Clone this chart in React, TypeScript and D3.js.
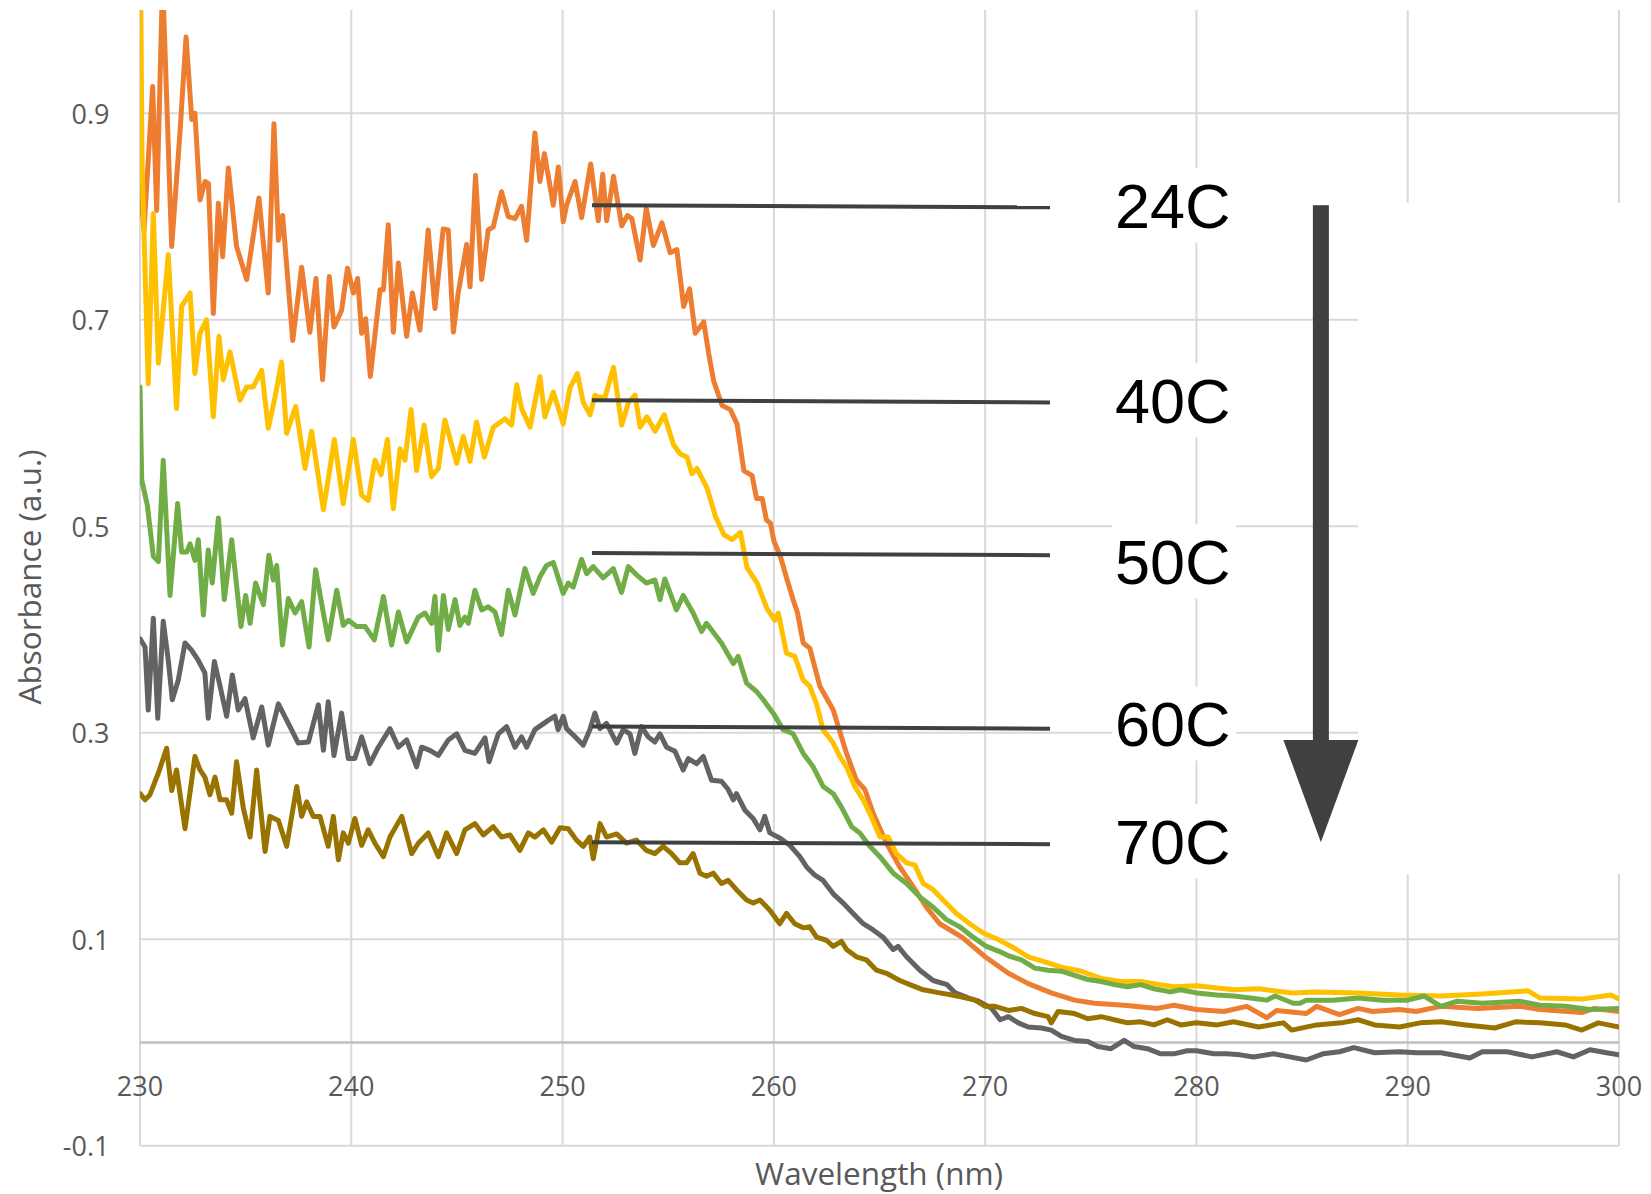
import React from 'react';
import * as d3 from 'd3';

const W = 1651;
const H = 1194;

const xTicks = [230, 240, 250, 260, 270, 280, 290, 300];
const yTicks = [-0.1, 0.1, 0.3, 0.5, 0.7, 0.9];
const yTickLabels = ['-0.1', '0.1', '0.3', '0.5', '0.7', '0.9'];

const seriesNames = ['24C', '40C', '50C', '60C', '70C'];
const seriesColors = ['#ED7D31', '#FFC000', '#70AD47', '#636363', '#997300'];

const abs24C: [number, number][] = [
  [230.0, 0.835], [230.19, 0.787], [230.6, 0.926], [230.79, 0.806], [231.07, 1.03], [231.5, 0.771], [231.89, 0.881], [232.18, 0.974], [232.45, 0.894], [232.6, 0.90], [232.84, 0.816], [233.08, 0.834], [233.24, 0.832], [233.47, 0.706], [233.71, 0.813], [233.91, 0.761], [234.18, 0.847], [234.57, 0.771], [235.05, 0.739], [235.63, 0.818], [236.07, 0.726], [236.34, 0.890], [236.55, 0.777], [236.75, 0.801], [237.23, 0.680], [237.65, 0.751], [238.04, 0.688], [238.33, 0.740], [238.64, 0.642], [238.96, 0.742], [239.18, 0.693], [239.54, 0.709], [239.82, 0.750], [240.10, 0.726], [240.30, 0.740], [240.49, 0.687], [240.68, 0.701], [240.90, 0.645], [241.36, 0.729], [241.52, 0.729], [241.75, 0.792], [241.99, 0.688], [242.23, 0.755], [242.62, 0.684], [242.89, 0.726], [243.25, 0.690], [243.64, 0.787], [243.96, 0.711], [244.35, 0.788], [244.59, 0.787], [244.83, 0.688], [245.06, 0.726], [245.46, 0.773], [245.62, 0.732], [245.88, 0.840], [246.17, 0.739], [246.48, 0.787], [246.72, 0.790], [247.11, 0.824], [247.43, 0.800], [247.75, 0.798], [248.06, 0.810], [248.30, 0.777], [248.69, 0.881], [248.93, 0.834], [249.14, 0.861], [249.56, 0.811], [249.80, 0.848], [250.03, 0.795], [250.19, 0.811], [250.59, 0.834], [250.90, 0.799], [251.33, 0.851], [251.69, 0.796], [251.90, 0.841], [252.09, 0.796], [252.41, 0.839], [252.80, 0.791], [253.07, 0.801], [253.28, 0.798], [253.67, 0.758], [253.96, 0.808], [254.30, 0.772], [254.70, 0.794], [255.09, 0.765], [255.41, 0.768], [255.73, 0.713], [256.01, 0.730], [256.28, 0.687], [256.68, 0.698], [256.91, 0.668], [257.15, 0.641], [257.55, 0.617], [257.94, 0.613], [258.26, 0.599], [258.58, 0.554], [258.97, 0.549], [259.18, 0.527], [259.45, 0.527], [259.65, 0.506], [259.84, 0.503], [260.0, 0.486], [260.32, 0.470], [260.63, 0.448], [260.91, 0.429], [261.11, 0.417], [261.39, 0.387], [261.70, 0.382], [262.18, 0.345], [262.81, 0.322], [263.44, 0.280], [263.91, 0.254], [264.31, 0.245], [264.70, 0.222], [265.33, 0.193], [265.96, 0.170], [266.59, 0.151], [267.22, 0.131], [267.85, 0.115], [268.90, 0.102], [270.0, 0.083], [271.10, 0.067], [272.04, 0.057], [273.13, 0.048], [274.23, 0.041], [275.17, 0.038], [276.58, 0.036], [278.15, 0.033], [278.93, 0.036], [280.0, 0.032], [281.29, 0.030], [282.38, 0.035], [283.33, 0.024], [283.79, 0.031], [285.20, 0.028], [285.69, 0.035], [286.77, 0.027], [287.65, 0.033], [288.34, 0.030], [289.6, 0.032], [290.39, 0.030], [291.57, 0.035], [293.33, 0.033], [295.29, 0.035], [296.27, 0.032], [298.24, 0.029], [298.82, 0.033], [300.0, 0.030],
];

const abs40C: [number, number][] = [
  [230.0, 1.10], [230.1, 0.85], [230.39, 0.638], [230.63, 0.803], [230.87, 0.658], [231.34, 0.763], [231.73, 0.614], [231.97, 0.713], [232.37, 0.726], [232.60, 0.648], [232.84, 0.687], [233.15, 0.700], [233.47, 0.606], [233.74, 0.684], [233.94, 0.642], [234.26, 0.669], [234.73, 0.622], [235.05, 0.635], [235.36, 0.635], [235.76, 0.651], [236.07, 0.595], [236.39, 0.625], [236.70, 0.659], [236.94, 0.590], [237.37, 0.616], [237.81, 0.556], [238.12, 0.592], [238.68, 0.516], [239.20, 0.584], [239.62, 0.522], [240.10, 0.584], [240.49, 0.530], [240.80, 0.525], [241.12, 0.564], [241.41, 0.550], [241.71, 0.584], [241.99, 0.517], [242.31, 0.575], [242.54, 0.564], [242.83, 0.613], [243.09, 0.554], [243.45, 0.598], [243.80, 0.548], [244.12, 0.556], [244.43, 0.603], [244.99, 0.561], [245.30, 0.587], [245.62, 0.563], [245.93, 0.601], [246.30, 0.567], [246.72, 0.596], [247.27, 0.604], [247.59, 0.598], [247.83, 0.637], [248.06, 0.614], [248.46, 0.596], [248.93, 0.645], [249.16, 0.606], [249.56, 0.630], [250.03, 0.599], [250.35, 0.634], [250.70, 0.648], [250.98, 0.620], [251.30, 0.608], [251.53, 0.627], [251.69, 0.625], [252.01, 0.625], [252.41, 0.654], [252.80, 0.598], [253.12, 0.620], [253.43, 0.627], [253.67, 0.596], [253.99, 0.606], [254.38, 0.592], [254.81, 0.608], [255.25, 0.579], [255.57, 0.570], [255.89, 0.567], [256.12, 0.551], [256.36, 0.556], [256.84, 0.537], [257.23, 0.510], [257.63, 0.492], [258.02, 0.487], [258.42, 0.494], [258.73, 0.460], [259.21, 0.445], [259.68, 0.420], [260.05, 0.409], [260.21, 0.416], [260.60, 0.377], [260.99, 0.374], [261.39, 0.351], [261.70, 0.345], [262.02, 0.328], [262.33, 0.303], [262.81, 0.290], [263.12, 0.277], [263.44, 0.267], [263.83, 0.248], [264.23, 0.235], [264.54, 0.222], [265.02, 0.199], [265.41, 0.199], [265.80, 0.183], [266.28, 0.174], [266.67, 0.172], [267.07, 0.154], [267.54, 0.148], [268.01, 0.138], [268.64, 0.125], [269.27, 0.115], [269.91, 0.106], [270.69, 0.099], [271.41, 0.091], [272.04, 0.083], [272.98, 0.077], [273.61, 0.073], [274.55, 0.069], [275.49, 0.062], [276.43, 0.059], [277.37, 0.059], [277.99, 0.057], [278.93, 0.054], [280.0, 0.055], [281.76, 0.051], [282.94, 0.052], [284.51, 0.048], [285.69, 0.049], [287.65, 0.048], [289.61, 0.046], [291.57, 0.045], [293.53, 0.047], [295.69, 0.050], [296.27, 0.043], [298.24, 0.042], [299.61, 0.046], [300.0, 0.042],
];

const abs50C: [number, number][] = [
  [230.0, 0.635], [230.08, 0.545], [230.35, 0.520], [230.63, 0.471], [230.87, 0.466], [231.10, 0.564], [231.42, 0.433], [231.78, 0.522], [231.97, 0.475], [232.21, 0.475], [232.37, 0.483], [232.60, 0.467], [232.76, 0.487], [233.00, 0.414], [233.23, 0.477], [233.42, 0.445], [233.71, 0.508], [233.99, 0.429], [234.34, 0.487], [234.78, 0.403], [235.00, 0.433], [235.21, 0.406], [235.47, 0.445], [235.84, 0.424], [236.10, 0.472], [236.31, 0.448], [236.47, 0.462], [236.74, 0.385], [237.02, 0.430], [237.34, 0.416], [237.65, 0.427], [238.00, 0.383], [238.31, 0.458], [238.60, 0.425], [238.91, 0.390], [239.31, 0.438], [239.62, 0.404], [239.86, 0.409], [240.25, 0.403], [240.65, 0.403], [241.09, 0.390], [241.52, 0.432], [241.91, 0.385], [242.23, 0.417], [242.62, 0.388], [243.17, 0.412], [243.49, 0.416], [243.80, 0.406], [243.96, 0.432], [244.12, 0.380], [244.36, 0.433], [244.59, 0.400], [244.91, 0.429], [245.14, 0.404], [245.38, 0.412], [245.54, 0.406], [245.85, 0.438], [246.17, 0.419], [246.48, 0.422], [246.80, 0.417], [247.11, 0.395], [247.43, 0.438], [247.75, 0.414], [248.22, 0.459], [248.61, 0.435], [248.93, 0.451], [249.24, 0.462], [249.56, 0.465], [250.03, 0.435], [250.27, 0.445], [250.50, 0.441], [250.90, 0.468], [251.14, 0.454], [251.45, 0.461], [251.92, 0.450], [252.40, 0.459], [252.79, 0.436], [253.11, 0.461], [253.50, 0.453], [253.97, 0.445], [254.37, 0.448], [254.61, 0.429], [254.84, 0.449], [255.39, 0.419], [255.71, 0.433], [256.18, 0.416], [256.58, 0.398], [256.81, 0.406], [257.52, 0.387], [258.08, 0.367], [258.31, 0.374], [258.71, 0.348], [259.18, 0.340], [259.50, 0.332], [259.97, 0.319], [260.44, 0.303], [260.91, 0.299], [261.39, 0.280], [261.86, 0.267], [262.33, 0.248], [262.81, 0.241], [263.20, 0.228], [263.68, 0.209], [264.07, 0.203], [264.54, 0.190], [265.02, 0.180], [265.65, 0.164], [266.28, 0.154], [266.91, 0.141], [267.54, 0.131], [268.17, 0.119], [268.80, 0.112], [269.43, 0.102], [270.06, 0.093], [270.69, 0.088], [271.10, 0.084], [271.72, 0.080], [272.35, 0.072], [272.98, 0.070], [273.61, 0.069], [274.23, 0.065], [274.86, 0.061], [275.49, 0.059], [276.11, 0.056], [276.74, 0.054], [277.37, 0.056], [277.99, 0.052], [278.78, 0.049], [279.25, 0.051], [280.0, 0.048], [280.97, 0.046], [281.76, 0.045], [282.55, 0.043], [283.32, 0.041], [283.73, 0.045], [284.58, 0.038], [284.90, 0.038], [285.20, 0.041], [286.47, 0.041], [287.65, 0.043], [288.82, 0.041], [290.0, 0.041], [290.78, 0.045], [291.57, 0.035], [292.35, 0.040], [293.53, 0.038], [295.29, 0.040], [296.27, 0.036], [297.45, 0.035], [298.63, 0.032], [300.0, 0.033],
];

const abs60C: [number, number][] = [
  [230.0, 0.391], [230.24, 0.383], [230.39, 0.322], [230.63, 0.411], [230.84, 0.314], [231.10, 0.408], [231.34, 0.370], [231.53, 0.332], [231.81, 0.351], [232.13, 0.387], [232.44, 0.380], [232.76, 0.370], [233.07, 0.358], [233.23, 0.314], [233.52, 0.369], [233.79, 0.345], [234.10, 0.316], [234.37, 0.356], [234.65, 0.322], [234.97, 0.333], [235.36, 0.295], [235.76, 0.325], [236.07, 0.288], [236.55, 0.328], [237.02, 0.309], [237.49, 0.290], [237.97, 0.291], [238.44, 0.327], [238.68, 0.283], [238.91, 0.330], [239.18, 0.278], [239.54, 0.319], [239.86, 0.275], [240.17, 0.275], [240.49, 0.296], [240.88, 0.270], [241.28, 0.286], [241.83, 0.304], [242.23, 0.286], [242.62, 0.293], [243.09, 0.267], [243.33, 0.286], [243.72, 0.283], [244.12, 0.278], [244.59, 0.293], [244.99, 0.299], [245.38, 0.283], [245.85, 0.280], [246.33, 0.295], [246.52, 0.272], [246.96, 0.299], [247.35, 0.306], [247.75, 0.286], [248.06, 0.296], [248.30, 0.286], [248.69, 0.303], [249.32, 0.312], [249.64, 0.316], [249.79, 0.303], [250.03, 0.316], [250.19, 0.304], [250.50, 0.298], [250.98, 0.288], [251.29, 0.303], [251.53, 0.319], [251.77, 0.304], [252.08, 0.309], [252.56, 0.290], [252.87, 0.303], [253.19, 0.299], [253.42, 0.280], [253.74, 0.306], [254.05, 0.296], [254.37, 0.291], [254.61, 0.299], [254.92, 0.286], [255.32, 0.282], [255.71, 0.264], [255.95, 0.275], [256.34, 0.270], [256.66, 0.277], [257.05, 0.254], [257.52, 0.253], [257.84, 0.245], [258.08, 0.235], [258.23, 0.241], [258.63, 0.225], [259.02, 0.217], [259.34, 0.206], [259.57, 0.219], [259.81, 0.203], [260.28, 0.198], [260.76, 0.191], [261.23, 0.180], [261.55, 0.170], [261.94, 0.162], [262.33, 0.157], [262.81, 0.144], [263.28, 0.135], [263.75, 0.125], [264.23, 0.115], [264.70, 0.109], [265.17, 0.102], [265.65, 0.090], [265.88, 0.093], [266.28, 0.083], [266.91, 0.070], [267.54, 0.060], [268.20, 0.056], [268.59, 0.048], [269.22, 0.043], [269.69, 0.040], [270.31, 0.033], [270.71, 0.022], [271.10, 0.025], [271.57, 0.019], [272.04, 0.015], [272.66, 0.014], [273.13, 0.012], [273.61, 0.006], [274.23, 0.002], [274.86, 0.001], [275.33, -0.004], [275.96, -0.006], [276.58, 0.002], [277.05, -0.004], [277.68, -0.006], [278.31, -0.011], [278.93, -0.011], [279.56, -0.008], [280.0, -0.008], [280.82, -0.011], [281.44, -0.011], [282.07, -0.012], [282.70, -0.014], [283.64, -0.011], [284.42, -0.014], [285.20, -0.017], [285.99, -0.011], [286.77, -0.009], [287.45, -0.005], [288.43, -0.010], [289.61, -0.009], [290.39, -0.010], [291.57, -0.010], [292.94, -0.015], [293.53, -0.009], [294.71, -0.009], [295.88, -0.014], [297.06, -0.009], [297.84, -0.014], [298.63, -0.007], [299.41, -0.010], [300.0, -0.012],
];

const abs70C: [number, number][] = [
  [230.0, 0.241], [230.24, 0.235], [230.47, 0.240], [230.87, 0.261], [231.26, 0.285], [231.50, 0.244], [231.73, 0.264], [232.13, 0.207], [232.60, 0.277], [232.84, 0.264], [233.07, 0.257], [233.31, 0.240], [233.55, 0.257], [233.79, 0.235], [234.10, 0.235], [234.34, 0.222], [234.57, 0.272], [234.89, 0.227], [235.21, 0.199], [235.52, 0.264], [235.92, 0.185], [236.15, 0.219], [236.55, 0.215], [236.94, 0.190], [237.42, 0.248], [237.65, 0.219], [237.89, 0.233], [238.20, 0.219], [238.52, 0.219], [238.91, 0.190], [239.15, 0.219], [239.39, 0.177], [239.62, 0.203], [239.86, 0.193], [240.17, 0.217], [240.49, 0.191], [240.80, 0.206], [241.12, 0.193], [241.52, 0.180], [241.83, 0.199], [242.39, 0.219], [242.86, 0.183], [243.17, 0.193], [243.64, 0.203], [244.12, 0.180], [244.51, 0.203], [244.99, 0.183], [245.38, 0.206], [245.85, 0.212], [246.25, 0.201], [246.72, 0.209], [247.11, 0.199], [247.51, 0.201], [247.98, 0.186], [248.38, 0.203], [248.69, 0.199], [249.09, 0.206], [249.48, 0.194], [249.88, 0.208], [250.27, 0.207], [250.66, 0.196], [250.98, 0.190], [251.29, 0.199], [251.45, 0.178], [251.77, 0.212], [252.08, 0.199], [252.56, 0.202], [253.03, 0.193], [253.50, 0.196], [253.97, 0.186], [254.37, 0.183], [254.76, 0.190], [255.16, 0.183], [255.55, 0.174], [255.87, 0.174], [256.18, 0.183], [256.50, 0.164], [256.81, 0.161], [257.13, 0.164], [257.52, 0.154], [257.84, 0.157], [258.23, 0.148], [258.71, 0.138], [259.02, 0.135], [259.34, 0.138], [259.81, 0.128], [260.28, 0.115], [260.60, 0.125], [260.99, 0.115], [261.39, 0.111], [261.70, 0.112], [262.02, 0.102], [262.49, 0.099], [262.81, 0.093], [263.20, 0.098], [263.44, 0.090], [263.91, 0.083], [264.38, 0.080], [264.86, 0.070], [265.33, 0.067], [265.96, 0.060], [266.44, 0.056], [267.07, 0.051], [267.85, 0.048], [268.43, 0.046], [268.90, 0.044], [269.53, 0.041], [270.0, 0.035], [270.47, 0.035], [271.10, 0.031], [271.72, 0.033], [272.35, 0.028], [272.98, 0.025], [273.13, 0.019], [273.45, 0.030], [274.23, 0.028], [274.86, 0.023], [275.49, 0.025], [276.11, 0.022], [276.74, 0.019], [277.37, 0.020], [277.99, 0.017], [278.62, 0.022], [279.25, 0.017], [280.0, 0.019], [280.98, 0.017], [281.76, 0.020], [282.94, 0.015], [284.12, 0.019], [284.51, 0.012], [285.69, 0.017], [286.86, 0.019], [287.65, 0.022], [288.43, 0.017], [289.61, 0.015], [290.59, 0.019], [291.57, 0.020], [292.75, 0.017], [294.12, 0.014], [295.10, 0.020], [296.27, 0.019], [297.45, 0.017], [298.24, 0.012], [299.02, 0.019], [300.0, 0.015],
];

const seriesData = [abs24C, abs40C, abs50C, abs60C, abs70C];

// annotation lines (wavelength span and absorbance at left/right end)
const labelLineX = [251.39, 273.07];
const labelLineLeft = [0.811, 0.622, 0.474, 0.306, 0.194];
const labelLineRight = [0.809, 0.620, 0.472, 0.304, 0.192];
const labelTextCenter = [0.811, 0.622, 0.466, 0.309, 0.195];

// arrow (wavelength of shaft centre; absorbance of top, head base, tip)
const arrowX = 285.89;
const arrowTop = 0.811;
const arrowBase = 0.293;
const arrowTip = 0.194;

export default function App() {
  const x = d3.scaleLinear().domain([230, 300]).range([140, 1619]);
  const y = d3.scaleLinear().domain([-0.1, 1.0]).range([1145.7, 10.1]);
  const line = d3
    .line<[number, number]>()
    .x((d) => x(d[0]))
    .y((d) => y(d[1]));

  const plotTop = y(1.0);
  const plotBottom = y(-0.1);
  const gridColor = '#d9d9d9';
  const textColor = '#595959';
  const axisFont = '"Open Sans", "DejaVu Sans", sans-serif';
  const labelFont = '"Liberation Sans", Arial, sans-serif';

  const ax = x(arrowX);

  return (
    <svg
      width={W}
      height={H}
      viewBox={`0 0 ${W} ${H}`}
      style={{ position: 'absolute', left: 0, top: 0, display: 'block', background: '#fff' }}
    >
      <defs>
        <clipPath id="plotClip">
          <rect x={x(230)} y={plotTop} width={x(300) - x(230)} height={plotBottom - plotTop} />
        </clipPath>
      </defs>
      <rect x={0} y={0} width={W} height={H} fill="#fff" />

      {/* gridlines */}
      {yTicks.map((t) => (
        <line key={'gy' + t} x1={x(230)} x2={x(300)} y1={y(t)} y2={y(t)} stroke={gridColor} strokeWidth={2} />
      ))}
      {xTicks.map((t) => (
        <line key={'gx' + t} x1={x(t)} x2={x(t)} y1={plotTop} y2={plotBottom} stroke={gridColor} strokeWidth={2} />
      ))}
      <line x1={x(230)} x2={x(300)} y1={y(0)} y2={y(0)} stroke="#bfbfbf" strokeWidth={2.5} />

      {/* white panels covering gridlines (label boxes and arrow area) */}
      {labelTextCenter.map((v, i) => (
        <rect key={'lb' + i} x={1112} y={y(v) - 37} width={124} height={74} fill="#fff" />
      ))}
      <rect x={1358} y={203} width={W - 1358} height={671} fill="#fff" />

      {/* series */}
      <g clipPath="url(#plotClip)">
        {seriesData.map((s, i) => (
          <path
            key={seriesNames[i]}
            d={line(s) || ''}
            fill="none"
            stroke={seriesColors[i]}
            strokeWidth={5}
            strokeLinejoin="round"
            strokeLinecap="round"
          />
        ))}
      </g>

      {/* y tick labels */}
      {yTicks.map((t, i) => (
        <text
          key={'yl' + t}
          x={109.5}
          y={y(t)}
          textAnchor="end"
          dominantBaseline="central"
          fontFamily={axisFont}
          fontSize={27}
          fill={textColor}
        >
          {yTickLabels[i]}
        </text>
      ))}
      {/* x tick labels */}
      {xTicks.map((t) => (
        <text
          key={'xl' + t}
          x={x(t)}
          y={1085}
          textAnchor="middle"
          dominantBaseline="central"
          fontFamily={axisFont}
          fontSize={27}
          fill={textColor}
        >
          {t}
        </text>
      ))}

      {/* axis titles */}
      <text
        x={879}
        y={1172}
        textAnchor="middle"
        dominantBaseline="central"
        fontFamily={axisFont}
        fontSize={31.5}
        fill={textColor}
      >
        Wavelength (nm)
      </text>
      <text
        transform={`translate(28,577) rotate(-90)`}
        textAnchor="middle"
        dominantBaseline="central"
        fontFamily={axisFont}
        fontSize={31.5}
        fill={textColor}
      >
        Absorbance (a.u.)
      </text>

      {/* annotation lines and labels */}
      {seriesNames.map((n, i) => (
        <g key={'ann' + n}>
          <line
            x1={x(labelLineX[0])}
            x2={x(labelLineX[1])}
            y1={y(labelLineLeft[i])}
            y2={y(labelLineRight[i])}
            stroke="#404040"
            strokeWidth={4}
          />
          <text x={1115} y={y(labelTextCenter[i]) + 22.5} fontFamily={labelFont} fontSize={63} fill="#000">
            {n}
          </text>
        </g>
      ))}

      {/* arrow */}
      <rect x={ax - 8} y={y(arrowTop)} width={16} height={y(arrowBase) - y(arrowTop) + 2} fill="#404040" />
      <polygon
        points={`${ax - 37.5},${y(arrowBase)} ${ax + 37.5},${y(arrowBase)} ${ax},${y(arrowTip)}`}
        fill="#404040"
      />
    </svg>
  );
}
